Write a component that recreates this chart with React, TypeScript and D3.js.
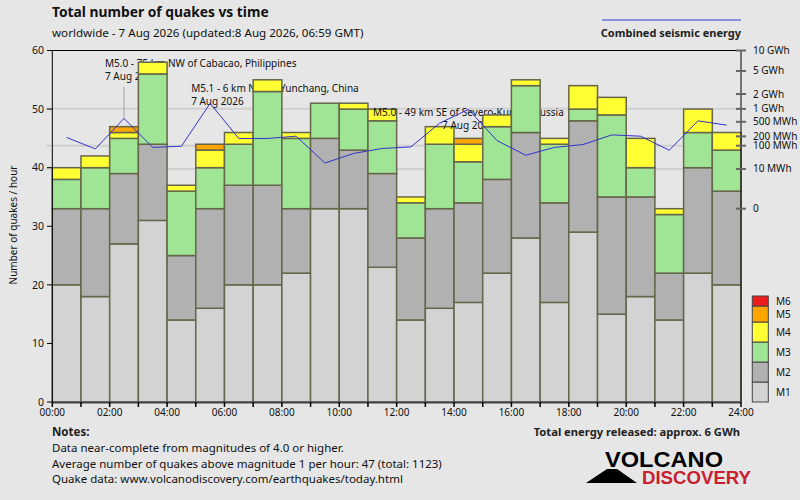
import React from "react";
import * as d3 from "d3";

// quakes per hour by magnitude class, 7 Aug 2026 (hours 00..23)
const hours = d3.range(24);
const m1 = [20, 18, 27, 31, 14, 16, 20, 20, 22, 33, 33, 23, 14, 16, 17, 22, 28, 17, 29, 15, 18, 14, 22, 20];
const m2 = [13, 15, 12, 13, 11, 17, 17, 17, 11, 12, 10, 16, 14, 17, 17, 16, 18, 17, 19, 20, 17, 8, 18, 16];
const m3 = [5, 7, 6, 12, 11, 7, 7, 16, 12, 6, 7, 9, 6, 11, 7, 9, 8, 10, 2, 14, 5, 10, 6, 7];
const m4 = [2, 2, 1, 2, 1, 3, 2, 2, 1, 0, 1, 2, 1, 3, 3, 2, 1, 1, 4, 3, 5, 1, 4, 3];
const m5 = [0, 0, 1, 0, 0, 1, 0, 0, 0, 0, 0, 0, 0, 0, 1, 0, 0, 0, 0, 0, 0, 0, 0, 0];
const m6 = [0, 0, 0, 0, 0, 0, 0, 0, 0, 0, 0, 0, 0, 0, 0, 0, 0, 0, 0, 0, 0, 0, 0, 0];

// combined seismic energy per hour, MWh
const energy = [185, 77, 605, 87, 96, 1307, 172, 172, 202, 20, 52, 80, 91, 462, 974, 147, 44, 87, 110, 221, 202, 69, 528, 411];

const magKeys = ["M1", "M2", "M3", "M4", "M5", "M6"];
const magColors = ["#d3d3d3", "#b1b1b1", "#a0e595", "#ffff33", "#ffa500", "#ee1c1c"];

const yTicks = [0, 10, 20, 30, 40, 50, 60];
const xTickLabels = ["00:00", "02:00", "04:00", "06:00", "08:00", "10:00", "12:00", "14:00", "16:00", "18:00", "20:00", "22:00", "24:00"];
const energyTicks = [0, 10, 100, 200, 500, 1000, 2000, 5000, 10000];
const energyTickLabels = ["0", "10 MWh", "100 MWh", "200 MWh", "500 MWh", "1 GWh", "2 GWh", "5 GWh", "10 GWh"];
const energyGrid = [10, 100, 1000];

const quakeNotes = [
  { hour: 2, label: "M5.0 - 75 km NW of Cabacao, Philippines", date: "7 Aug 2026" },
  { hour: 5, label: "M5.1 - 6 km NW of Yunchang, China", date: "7 Aug 2026" },
  { hour: 14, label: "M5.0 - 49 km SE of Severo-Kurilsk, Russia", date: "7 Aug 2026" },
];

const notesLines = [
  "Data near-complete from magnitudes of 4.0 or higher.",
  "Average number of quakes above magnitude 1 per hour: 47 (total: 1123)",
  "Quake data: www.volcanodiscovery.com/earthquakes/today.html",
];

const FONT = "'Noto Sans', 'DejaVu Sans', sans-serif";

const App: React.FC = () => {
  const W = 800;
  const H = 500;
  const left = 52.3;
  const right = 741;
  const top = 50.5;
  const bottom = 402;

  const x = d3.scaleLinear().domain([0, 24]).range([left, right]);
  const y = d3.scaleLinear().domain([0, 60]).range([bottom, top]);
  const yE = d3.scalePow().exponent(0.2).domain([0, 10000]).range([y(33), y(60)]);

  const rows = hours.map((h) => ({
    M1: m1[h], M2: m2[h], M3: m3[h], M4: m4[h], M5: m5[h], M6: m6[h],
  }));
  const series = d3.stack<any>().keys(magKeys)(rows);

  const energyLine = d3.line<number>()
    .x((_, i) => x(i + 0.5))
    .y((d) => yE(d));

  // label placement for the annotated quakes
  const noteLayout = [
    { dx: -19, y: 67, anchor: "start", leader: true },
    { dx: -19, y: 92, anchor: "start", leader: false },
    { dx: 0, y: 116, anchor: "middle", leader: false },
  ];

  // legend boxes, bottom up
  const legendBoxes = [
    { y0: 382, y1: 402 },
    { y0: 362, y1: 382 },
    { y0: 342, y1: 362 },
    { y0: 322, y1: 342 },
    { y0: 306, y1: 322 },
    { y0: 296, y1: 306 },
  ];

  return (
    <svg
      width={W}
      height={H}
      style={{ position: "fixed", left: 0, top: 0, background: "#e6e6e6" }}
      fontFamily={FONT}
    >
      <rect x={0} y={0} width={W} height={H} fill="#e6e6e6" />

      {/* titles */}
      <text x={52} y={17} fontSize={13.8} fontWeight="bold" fill="#111">
        Total number of quakes vs time
      </text>
      <text x={52} y={37} fontSize={11.6} fill="#111">
        worldwide - 7 Aug 2026 (updated:8 Aug 2026, 06:59 GMT)
      </text>
      <line x1={602} x2={741} y1={20} y2={20} stroke="#3333cc" strokeWidth={1} />
      <text x={741} y={37} fontSize={11} fontWeight="bold" textAnchor="end" fill="#222">
        Combined seismic energy
      </text>

      {/* grid lines (energy decades) */}
      {energyGrid.map((e) => (
        <line key={e} x1={46} x2={right} y1={yE(e)} y2={yE(e)} stroke="#d0d0d0" strokeWidth={2} />
      ))}

      {/* bars, with annotations drawn in hour order */}
      {hours.map((h) => {
        const ni = quakeNotes.findIndex((n) => n.hour === h);
        const note = ni >= 0 ? quakeNotes[ni] : null;
        const lay = ni >= 0 ? noteLayout[ni] : null;
        const cx = x(h + 0.5);
        return (
          <g key={h}>
            {series.map((s, k) => {
              const d = s[h];
              if (d[1] - d[0] <= 0) return null;
              return (
                <rect
                  key={k}
                  x={x(h)}
                  y={y(d[1])}
                  width={x(h + 1) - x(h)}
                  height={y(d[0]) - y(d[1])}
                  fill={magColors[k]}
                  stroke="#66664a"
                  strokeWidth={1.5}
                />
              );
            })}
            {note && lay && (
              <g fontSize={10} fill="#111">
                {lay.leader && (
                  <line x1={cx} x2={cx} y1={lay.y + 20} y2={yE(energy[h])} stroke="#a0a0a0" strokeWidth={1} />
                )}
                <text x={cx + lay.dx} y={lay.y} textAnchor={lay.anchor}>{note.label}</text>
                <text x={cx + lay.dx} y={lay.y + 12.5} textAnchor={lay.anchor}>{note.date}</text>
              </g>
            )}
          </g>
        );
      })}

      {/* energy line */}
      <path d={energyLine(energy) || ""} fill="none" stroke="#3333cc" strokeWidth={1} />

      {/* frame */}
      <line x1={left} x2={right} y1={top} y2={top} stroke="#000" strokeWidth={1} />
      <line x1={left} x2={left} y1={top} y2={bottom} stroke="#000" strokeWidth={1} />
      <line x1={right} x2={right} y1={top} y2={bottom} stroke="#000" strokeWidth={1} />
      <line x1={left} x2={right} y1={bottom + 0.5} y2={bottom + 0.5} stroke="#444" strokeWidth={2} />

      {/* left axis */}
      {yTicks.map((t) => (
        <g key={t}>
          <line x1={47} x2={left} y1={y(t)} y2={y(t)} stroke="#000" strokeWidth={1} />
          <text x={44} y={y(t)} dy="0.35em" textAnchor="end" fontSize={10.5} fill="#111">{t}</text>
        </g>
      ))}
      <text
        transform={`translate(17,225) rotate(-90)`}
        textAnchor="middle"
        fontSize={10}
        fill="#111"
      >
        Number of quakes / hour
      </text>

      {/* bottom axis */}
      {d3.range(25).map((h) => (
        <line key={h} x1={x(h)} x2={x(h)} y1={bottom} y2={bottom + 5} stroke="#000" strokeWidth={1.5} />
      ))}
      {xTickLabels.map((l, i) => (
        <text key={l} x={x(i * 2)} y={416} textAnchor="middle" fontSize={10} fill="#111">{l}</text>
      ))}

      {/* right energy axis */}
      {energyTicks.map((e, i) => (
        <g key={e}>
          <line x1={736} x2={746} y1={yE(e)} y2={yE(e)} stroke="#666" strokeWidth={2} />
          <text x={753} y={yE(e)} dy="0.35em" fontSize={10} fill="#111">{energyTickLabels[i]}</text>
        </g>
      ))}

      {/* magnitude legend */}
      {magKeys.map((k, i) => (
        <g key={k}>
          <rect
            x={752.3}
            y={legendBoxes[i].y0}
            width={16}
            height={legendBoxes[i].y1 - legendBoxes[i].y0}
            fill={magColors[i]}
            stroke="#444"
            strokeWidth={1}
          />
          <text x={776} y={(legendBoxes[i].y0 + legendBoxes[i].y1) / 2} dy="0.35em" fontSize={10} fill="#111">
            {k}
          </text>
        </g>
      ))}

      {/* notes */}
      <text x={52} y={436} fontSize={11.5} fontWeight="bold" fill="#222">Notes:</text>
      {notesLines.map((l, i) => (
        <text key={i} x={52} y={452 + i * 15.5} fontSize={11.5} fill="#111">{l}</text>
      ))}
      <text x={740} y={436} fontSize={11.2} fontWeight="bold" textAnchor="end" fill="#222">
        Total energy released: approx. 6 GWh
      </text>

      {/* logo */}
      <polygon points="586,483 607,469 617,469 637,483" fill="#000" />
      <text
        x={605}
        y={467}
        fontSize={22}
        fontWeight="bold"
        fontFamily="'Liberation Sans', Arial, sans-serif"
        textLength={118}
        lengthAdjust="spacingAndGlyphs"
        fill="#000"
      >
        VOLCANO
      </text>
      <text
        x={642}
        y={484}
        fontSize={18}
        fontWeight="bold"
        fontFamily="'Liberation Sans', Arial, sans-serif"
        textLength={109}
        lengthAdjust="spacingAndGlyphs"
        fill="#c8202f"
      >
        DISCOVERY
      </text>
    </svg>
  );
};

export default App;
